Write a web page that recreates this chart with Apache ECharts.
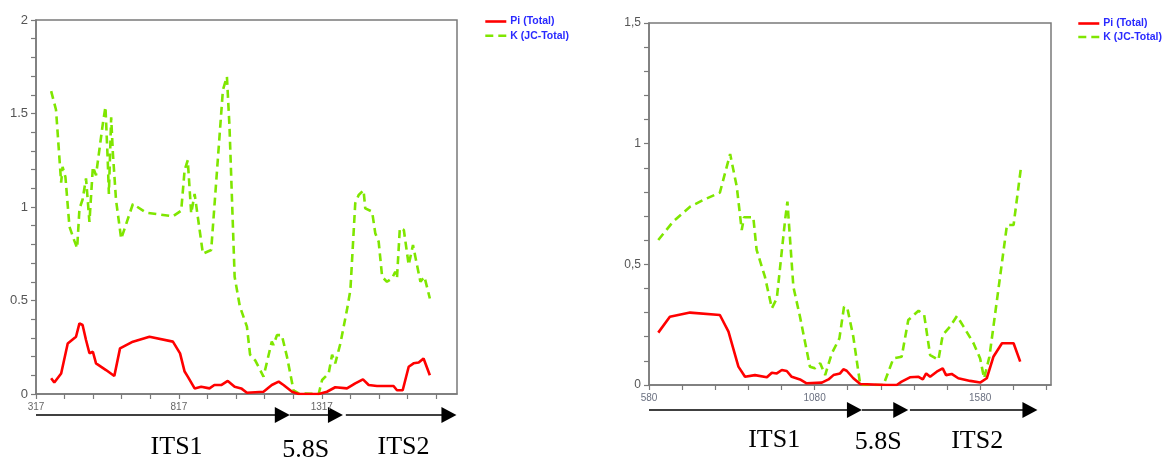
<!DOCTYPE html>
<html><head><meta charset="utf-8">
<script src="https://cdn.jsdelivr.net/npm/echarts@6/dist/echarts.min.js"></script>
<style>html,body{margin:0;padding:0;background:#fff}#c{width:1163px;height:460px}</style>
</head><body><div id="c"></div>
<script>
const seriesNames = ['Pi (Total)', 'K (JC-Total)'];

// Left panel (positions 317..~1790)
const leftK = [[370,1.62],[387,1.52],[405,1.13],[410,1.215],[420,1.16],[434,0.895],[451,0.82],[461,0.78],[469,0.99],[480,1.04],[492,1.153],[504,0.92],[516,1.215],[527,1.17],[551,1.447],[560,1.536],[568,1.25],[572,1.07],[580,1.48],[586,1.287],[597,1.037],[615,0.83],[656,1.016],[702,0.97],[796,0.95],[825,0.98],[837,1.198],[848,1.25],[860,0.966],[872,1.07],[901,0.75],[930,0.77],[971,1.626],[985,1.697],[994,1.43],[1012,0.627],[1030,0.47],[1055,0.36],[1066,0.21],[1084,0.18],[1113,0.093],[1142,0.28],[1148,0.262],[1160,0.315],[1177,0.315],[1195,0.2],[1218,0.02],[1236,0.004],[1306,0],[1318,0.075],[1341,0.11],[1353,0.21],[1364,0.164],[1382,0.27],[1405,0.45],[1417,0.556],[1434,1.02],[1446,1.064],[1463,1.09],[1469,0.993],[1493,0.975],[1504,0.86],[1516,0.814],[1528,0.627],[1545,0.6],[1563,0.619],[1574,0.654],[1580,0.619],[1590,0.886],[1604,0.877],[1621,0.69],[1636,0.797],[1650,0.69],[1662,0.6],[1676,0.627],[1695,0.511]];
const leftPi = [[370,0.084],[381,0.061],[405,0.11],[428,0.27],[457,0.306],[469,0.378],[480,0.369],[492,0.289],[504,0.218],[516,0.226],[527,0.164],[562,0.128],[591,0.096],[611,0.244],[656,0.28],[714,0.306],[796,0.28],[821,0.217],[837,0.12],[848,0.093],[872,0.03],[895,0.039],[924,0.03],[941,0.048],[965,0.048],[988,0.07],[1012,0.039],[1035,0.03],[1055,0.007],[1113,0.012],[1142,0.048],[1166,0.066],[1183,0.048],[1213,0.012],[1236,0],[1306,0],[1335,0.012],[1364,0.036],[1405,0.03],[1434,0.057],[1461,0.078],[1481,0.048],[1510,0.043],[1568,0.043],[1580,0.02],[1600,0.02],[1621,0.146],[1638,0.164],[1656,0.168],[1673,0.19],[1695,0.1]];

// Right panel (positions 580..~1794)
const rightK = [[608,0.601],[653,0.677],[704,0.739],[749,0.77],[794,0.797],[825,0.957],[845,0.822],[860,0.642],[867,0.695],[895,0.695],[905,0.56],[930,0.449],[951,0.318],[966,0.359],[991,0.684],[998,0.76],[1016,0.407],[1036,0.283],[1066,0.076],[1081,0.069],[1097,0.09],[1112,0.041],[1132,0.131],[1155,0.193],[1169,0.325],[1179,0.318],[1197,0.2],[1218,0],[1288,0],[1318,0.11],[1343,0.117],[1363,0.269],[1394,0.308],[1411,0.29],[1429,0.124],[1454,0.104],[1467,0.207],[1489,0.242],[1510,0.286],[1530,0.242],[1560,0.173],[1580,0.11],[1592,0.028],[1608,0.117],[1661,0.663],[1681,0.663],[1703,0.898]];
const rightPi = [[608,0.217],[643,0.283],[704,0.3],[794,0.29],[820,0.221],[850,0.076],[870,0.034],[900,0.041],[936,0.032],[951,0.051],[966,0.048],[981,0.062],[996,0.058],[1011,0.034],[1036,0.023],[1056,0.007],[1102,0.01],[1122,0.023],[1137,0.041],[1157,0.048],[1167,0.065],[1177,0.059],[1197,0.028],[1218,0.004],[1298,0],[1328,0],[1343,0.014],[1368,0.032],[1394,0.034],[1407,0.023],[1417,0.048],[1429,0.034],[1449,0.055],[1467,0.069],[1477,0.041],[1494,0.046],[1514,0.028],[1550,0.017],[1580,0.01],[1600,0.028],[1620,0.117],[1646,0.173],[1681,0.173],[1701,0.097]];

// Axis ticks and labels
const leftXTicks = [317,417,517,617,717,817,917,1017,1117,1217,1317,1417,1517,1617,1717];
const leftXLabels = [317,817,1317];
const leftYTicks = [0,0.1,0.2,0.3,0.4,0.5,0.6,0.7,0.8,0.9,1,1.1,1.2,1.3,1.4,1.5,1.6,1.7,1.8,1.9,2];
const leftYLabels = [0,0.5,1,1.5,2];
const rightXTicks = [580,680,780,880,980,1080,1180,1280,1380,1480,1580,1680,1780];
const rightXLabels = [580,1080,1580];
const rightYTicks = [0,0.1,0.2,0.3,0.4,0.5,0.6,0.7,0.8,0.9,1,1.1,1.2,1.3,1.4,1.5];
const rightYLabels = [0,0.5,1,1.5];

// Region annotations: [label, from, to, labelCenter]
const leftRegions = [['ITS1',317,1205,809],['5.8S',1205,1391,1261],['ITS2',1401,1788,1603]];
const rightRegions = [['ITS1',580,1223,958],['5.8S',1223,1363,1272],['ITS2',1368,1753,1571]];

const RED = '#ff0000', GREEN = '#7fe600', AXIS = '#7a7a7a';

function xAxisCfg(grid, min, max, ticks, labels, color){
  return {type:'value', gridIndex:grid, min:min, max:max,
    axisLine:{show:true, onZero:false, lineStyle:{color:AXIS, width:1.5}},
    axisTick:{show:true, length:5, customValues:ticks, lineStyle:{color:AXIS, width:1.2}},
    axisLabel:{customValues:labels, fontSize:10, color:color, margin:8, fontFamily:'Liberation Sans', formatter:v => String(v)},
    splitLine:{show:false}};
}
function yAxisCfg(grid, max, ticks, labels, fmt, fs){
  return {type:'value', gridIndex:grid, min:0, max:max,
    axisLine:{show:true, lineStyle:{color:AXIS, width:1.5}},
    axisTick:{show:true, length:5, customValues:ticks, lineStyle:{color:AXIS, width:1.2}},
    axisLabel:{customValues:labels, fontSize:fs, color:'#555', margin:8, formatter:fmt, fontFamily:'Liberation Sans'},
    splitLine:{show:false}};
}
function lineSeries(name, data, idx, color, dashed){
  return {name:name, type:'line', xAxisIndex:idx, yAxisIndex:idx, data:data,
    symbol:'none', showSymbol:false, z: dashed?2:3,
    itemStyle:{color:color},
    lineStyle:{color:color, width:2.6, type: dashed?[8,5]:'solid'}};
}
function legendCfg(left, top, gap){
  return {left:left, top:top, orient:'vertical', padding:0, itemWidth:21, itemHeight:10, itemGap:gap,
    data:seriesNames, selectedMode:false,
    itemStyle:{opacity:0, borderWidth:0},
    lineStyle:{width:2.6},
    textStyle:{color:'#2a2aff', fontSize:10.5, fontWeight:'bold', fontFamily:'Liberation Sans', padding:[0,0,0,-1]}};
}

const chart = echarts.init(document.getElementById('c'), null, {renderer:'canvas'});
chart.setOption({
  animation:false,
  backgroundColor:'#fff',
  grid:[
    {left:36, top:20, width:421, height:374, show:true, borderColor:AXIS, borderWidth:1.5, backgroundColor:'#fff'},
    {left:649, top:23, width:402, height:362, show:true, borderColor:AXIS, borderWidth:1.5, backgroundColor:'#fff'}
  ],
  xAxis:[
    xAxisCfg(0, 317, 1790, leftXTicks, leftXLabels, '#666'),
    xAxisCfg(1, 580, 1794, rightXTicks, rightXLabels, '#6a7080')
  ],
  yAxis:[
    yAxisCfg(0, 2, leftYTicks, leftYLabels, v => String(v), 13),
    yAxisCfg(1, 1.5, rightYTicks, rightYLabels, v => String(v).replace('.', ','), 12)
  ],
  legend:[legendCfg(484, 16, 3.3), legendCfg(1077, 18, 2.5)],
  series:[
    lineSeries(seriesNames[1], leftK, 0, GREEN, true),
    lineSeries(seriesNames[0], leftPi, 0, RED, false),
    lineSeries(seriesNames[1], rightK, 1, GREEN, true),
    lineSeries(seriesNames[0], rightPi, 1, RED, false)
  ]
});

function buildAnnotations(regions, axisIdx, arrowY, textYs){
  const els = [];
  regions.forEach((r, i) => {
    const x1 = chart.convertToPixel({xAxisIndex:axisIdx}, r[1]);
    const x2 = chart.convertToPixel({xAxisIndex:axisIdx}, r[2]);
    const xc = chart.convertToPixel({xAxisIndex:axisIdx}, r[3]);
    const hl = 15, hh = 8;
    els.push({type:'line', silent:true, shape:{x1:x1, y1:arrowY, x2:x2 - hl + 1, y2:arrowY}, style:{stroke:'#000', lineWidth:1.6}});
    els.push({type:'polygon', silent:true, shape:{points:[[x2 - hl, arrowY - hh],[x2, arrowY],[x2 - hl, arrowY + hh]]}, style:{fill:'#000'}});
    els.push({type:'text', silent:true, x:xc, y:textYs[i], style:{text:r[0], fill:'#000', font:'26px "Liberation Serif"', align:'center', verticalAlign:'middle'}});
  });
  return els;
}
chart.setOption({graphic:[].concat(
  buildAnnotations(leftRegions, 0, 415, [447, 450, 447]),
  buildAnnotations(rightRegions, 1, 410, [440, 442, 441])
)});
</script>
</body></html>
